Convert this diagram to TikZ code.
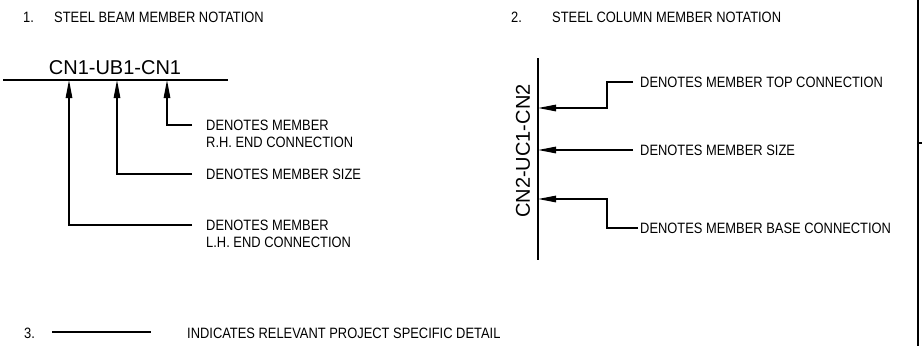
\documentclass[tikz,border=0pt]{standalone}
\usepackage{fontspec}
\setmainfont{Liberation Sans}
\newfontfamily\stretta{Liberation Sans}[FakeStretch=0.86]
\usetikzlibrary{arrows.meta, positioning}

\begin{document}
\begin{tikzpicture}[
  x=1pt, y=-1pt,
  testo/.style={font=\stretta\fontsize{15}{17}\selectfont, inner sep=0pt, anchor=west, align=left},
  sigla/.style={font=\fontsize{20}{22}\selectfont, inner sep=0pt},
  linea/.style={draw=black, line width=1.3pt},
  freccia/.style={draw=black, line width=1.3pt, -{Triangle[length=18pt,width=6.5pt]}}
]
\useasboundingbox (0,0) rectangle (922,346);

% titoli
\node[testo] (n1) at (23,17) {1.};
\node[testo] (t1) at (54,17) {STEEL BEAM MEMBER NOTATION};
\node[testo] (n2) at (511,17) {2.};
\node[testo] (t2) at (552,17) {STEEL COLUMN MEMBER NOTATION};

% trave
\node[sigla] (trave) at (115,68) {CN1-UB1-CN1};
\draw[linea] (3,80) -- (228,80);
\coordinate (ts) at (69,80);
\coordinate (tm) at (117,80);
\coordinate (td) at (167,80);

\node[testo, anchor=north west] (ld) at (206,119.5) {DENOTES MEMBER\\R.H. END CONNECTION};
\node[testo] (lm) at (206,174) {DENOTES MEMBER SIZE};
\node[testo, anchor=north west] (ls) at (206,219.5) {DENOTES MEMBER\\L.H. END CONNECTION};

\draw[freccia] ([xshift=-14pt,yshift=-5.5pt]ld.north west) -| (td);
\draw[freccia] ([xshift=-14pt]lm.west) -| (tm);
\draw[freccia] ([xshift=-14pt,yshift=-5.5pt]ls.north west) -| (ts);

% colonna
\draw[linea] (538,58) -- (538,260);
\node[sigla, rotate=90] (colonna) at (523,151) {CN2-UC1-CN2};
\coordinate (ca) at (538,108);
\coordinate (cm) at (538,150);
\coordinate (cb) at (538,199);

\node[testo] (la) at (640,82) {DENOTES MEMBER TOP CONNECTION};
\node[testo] (lc) at (640,150) {DENOTES MEMBER SIZE};
\node[testo] (lb) at (640,228) {DENOTES MEMBER BASE CONNECTION};

\draw[freccia] ([xshift=-7pt]la.west) -- ++(-26,0) |- (ca);
\draw[freccia] ([xshift=-7pt]lc.west) -- (cm);
\draw[freccia] ([xshift=-2pt]lb.west) -- ++(-31,0) |- (cb);

% dettaglio
\node[testo] (n3) at (24,333) {3.};
\coordinate (d1) at (52,332);
\coordinate (d2) at (151,332);
\draw[linea] (d1) -- (d2);
\node[testo] (t3) at (187,333) {INDICATES RELEVANT PROJECT SPECIFIC DETAIL};

% bordo
\draw[line width=1.5pt] (918,0) -- (918,346);
\draw[line width=1.3pt] (918,143) -- (922,143);

\end{tikzpicture}
\end{document}
